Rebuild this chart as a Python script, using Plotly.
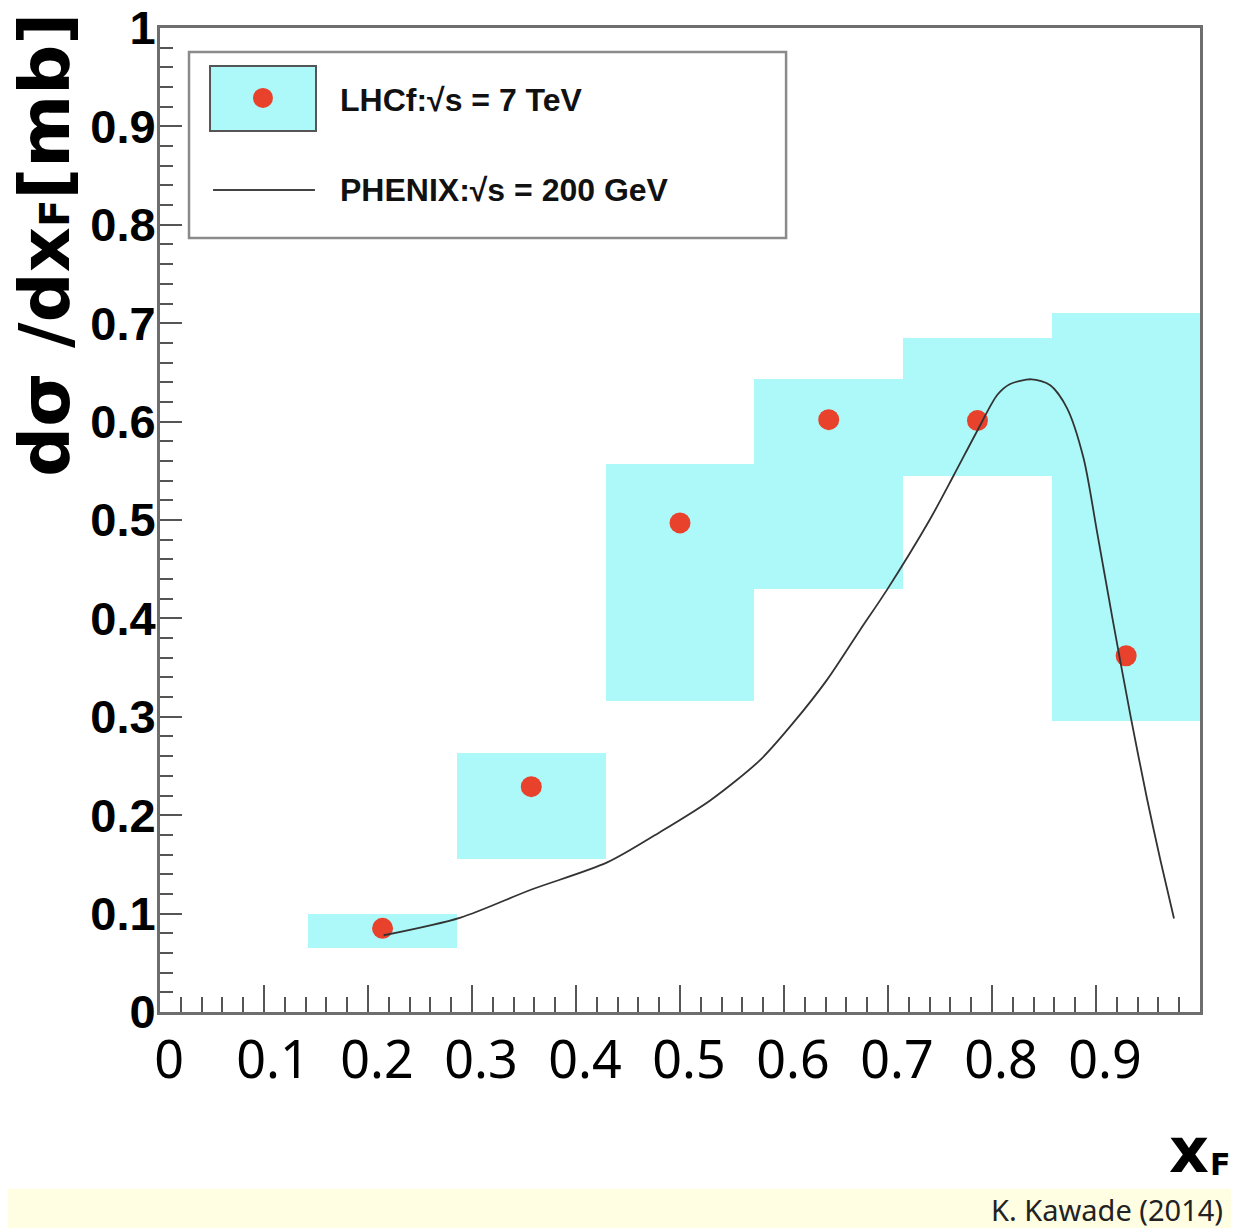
import plotly.graph_objects as go

# ---- data ----
bin_edges = [0.143, 0.286, 0.429, 0.571, 0.714, 0.857, 1.0]
lhcf_x = [0.214, 0.357, 0.500, 0.643, 0.786, 0.929]
lhcf_y = [0.085, 0.229, 0.497, 0.602, 0.601, 0.362]
lhcf_lo = [0.065, 0.155, 0.316, 0.430, 0.545, 0.296]
lhcf_hi = [0.100, 0.263, 0.557, 0.643, 0.685, 0.710]

phenix_x = [0.215, 0.289, 0.356, 0.430, 0.481, 0.529, 0.577, 0.609, 0.641, 0.673,
            0.699, 0.740, 0.763, 0.786, 0.805, 0.817, 0.838, 0.856, 0.872, 0.888,
            0.901, 0.916, 0.933, 0.949, 0.962, 0.975]
phenix_y = [0.078, 0.096, 0.124, 0.152, 0.183, 0.215, 0.256, 0.294, 0.337, 0.388,
            0.429, 0.500, 0.545, 0.591, 0.627, 0.638, 0.643, 0.637, 0.614, 0.563,
            0.488, 0.399, 0.302, 0.217, 0.154, 0.095]

x_ticks = [0, 0.1, 0.2, 0.3, 0.4, 0.5, 0.6, 0.7, 0.8, 0.9]
x_ticktext = ["0", "0.1", "0.2", "0.3", "0.4", "0.5", "0.6", "0.7", "0.8", "0.9"]
y_ticks = [0, 0.1, 0.2, 0.3, 0.4, 0.5, 0.6, 0.7, 0.8, 0.9, 1.0]
y_ticktext = ["0", "0.1", "0.2", "0.3", "0.4", "0.5", "0.6", "0.7", "0.8", "0.9", "1"]

CYAN = "#ADF9FA"
RED = "#E8412C"
FRAME = "#6E6E6E"
TICK = "#555555"

widths = [bin_edges[i + 1] - bin_edges[i] for i in range(len(lhcf_x))]
heights = [h - l for h, l in zip(lhcf_hi, lhcf_lo)]

fig = go.Figure()
fig.add_trace(go.Bar(x=lhcf_x, y=heights, base=lhcf_lo, width=widths,
                     marker=dict(color=CYAN, line=dict(width=0)),
                     showlegend=False, hoverinfo="skip"))
fig.add_trace(go.Scatter(x=lhcf_x, y=lhcf_y, mode="markers",
                         marker=dict(color=RED, size=21, line=dict(width=0)),
                         showlegend=False))
fig.add_trace(go.Scatter(x=phenix_x, y=phenix_y, mode="lines",
                         line=dict(color="#333333", width=1.8, shape="spline", smoothing=0.8),
                         showlegend=False))

# page body has an 8px margin, so the figure is made 8px smaller each way
fig.update_layout(
    width=1231, height=1220,
    margin=dict(l=152, r=39, t=20, b=216, autoexpand=False),
    paper_bgcolor="white", plot_bgcolor="white",
    bargap=0,
    xaxis=dict(range=[0, 1], tickvals=x_ticks, ticktext=x_ticktext, automargin=False,
               ticks="inside", ticklen=27, tickwidth=1.5, tickcolor=TICK,
               minor=dict(dtick=0.02, tick0=0, ticks="inside", ticklen=15,
                          tickwidth=1.5, tickcolor=TICK),
               showline=True, linecolor=FRAME, linewidth=3, mirror=True,
               showgrid=False, zeroline=False,
               ticklabelstandoff=1, ticklabelshift=9, ticklabeloverflow="allow",
               tickfont=dict(family="Noto Sans", size=52, color="black")),
    yaxis=dict(range=[0, 1], tickvals=y_ticks, ticktext=y_ticktext, automargin=False,
               ticks="inside", ticklen=22, tickwidth=1.5, tickcolor=TICK,
               minor=dict(dtick=0.02, tick0=0, ticks="inside", ticklen=13,
                          tickwidth=1.5, tickcolor=TICK),
               showline=True, linecolor=FRAME, linewidth=3, mirror=True,
               showgrid=False, zeroline=False,
               ticklabelstandoff=-8, ticklabeloverflow="allow",
               tickfont=dict(family="Liberation Sans", size=47, color="black", weight="bold")),
)

# legend box (drawn in paper coordinates)
shapes = [
    dict(type="rect", xref="paper", yref="paper", x0=0.0279, x1=0.602, y0=0.7866, y1=0.9756,
         line=dict(color="#8a8a8a", width=2.5), fillcolor="white", layer="above"),
    dict(type="rect", xref="paper", yref="paper", x0=0.0481, x1=0.150, y0=0.8953, y1=0.9614,
         line=dict(color="#555555", width=2), fillcolor=CYAN, layer="above"),
    dict(type="circle", xref="paper", yref="paper", x0=0.0894, x1=0.1086, y0=0.9187, y1=0.9391,
         line=dict(width=0), fillcolor=RED, layer="above"),
    dict(type="line", xref="paper", yref="paper", x0=0.051, x1=0.149, y0=0.8354, y1=0.8354,
         line=dict(color="#444444", width=2), layer="above"),
    # bottom citation band
    dict(type="rect", xref="paper", yref="paper", x0=-0.16, x1=1.04, y0=-0.25, y1=-0.1795,
         line=dict(width=0), fillcolor="#FFFDE2", layer="below"),
]
fig.update_layout(shapes=shapes)

annotations = [
    dict(text="LHCf:√s = 7 TeV", xref="paper", yref="paper", x=0.171, y=0.9268,
         xanchor="left", yanchor="middle", showarrow=False,
         font=dict(family="Liberation Sans", size=32, color="#111111", weight="bold")),
    dict(text="PHENIX:√s = 200 GeV", xref="paper", yref="paper", x=0.171, y=0.8354,
         xanchor="left", yanchor="middle", showarrow=False,
         font=dict(family="Liberation Sans", size=32, color="#111111", weight="bold")),
    dict(text="dσ /dx<span style='font-size:40px'>F</span>[mb]", xref="paper", yref="paper",
         x=-0.1106, y=0.7795,
         xanchor="center", yanchor="middle", textangle=-90, showarrow=False,
         font=dict(family="DejaVu Sans", size=70, color="black", weight="bold")),
    dict(text="x", xref="paper", yref="paper", x=0.989, y=-0.141,
         xanchor="center", yanchor="middle", showarrow=False,
         font=dict(family="DejaVu Sans", size=62, color="black", weight="bold")),
    dict(text="F", xref="paper", yref="paper", x=1.020, y=-0.1545,
         xanchor="center", yanchor="middle", showarrow=False,
         font=dict(family="DejaVu Sans", size=30, color="black", weight="bold")),
    dict(text="K. Kawade (2014)", xref="paper", yref="paper", x=1.0245, y=-0.2005,
         xanchor="right", yanchor="middle", showarrow=False,
         font=dict(family="Noto Sans", size=29, color="#222222")),
]
fig.update_layout(annotations=annotations)

fig.write_html("out.html")
